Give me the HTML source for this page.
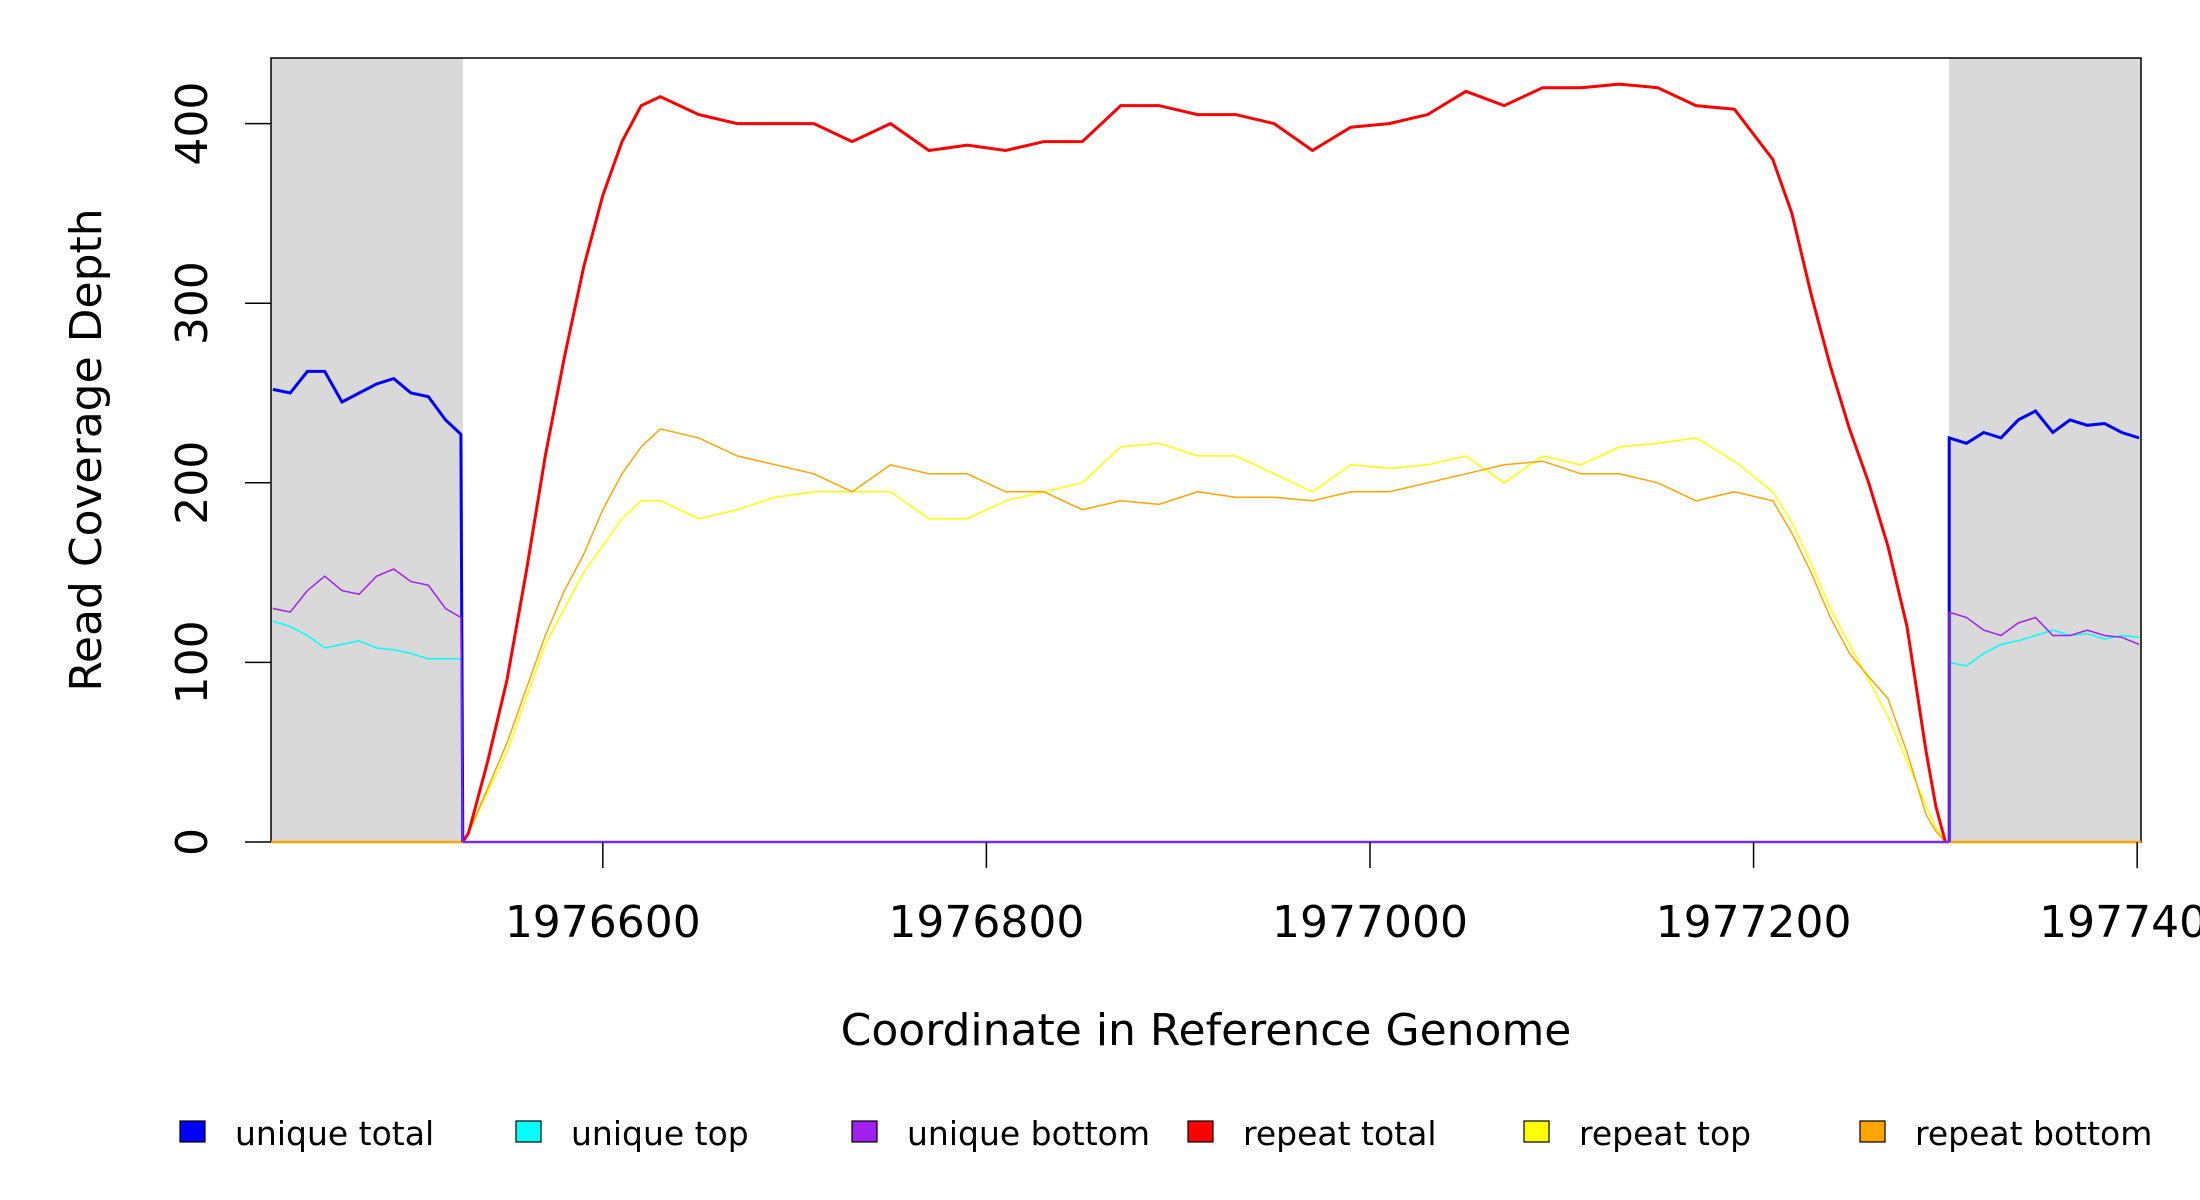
<!DOCTYPE html>
<html><head><meta charset="utf-8"><style>
body{margin:0;background:#fff}
svg{display:block;font-family:"DejaVu Sans","Liberation Sans",sans-serif}
</style></head><body>
<svg id="chart" width="2200" height="1200" viewBox="0 0 2200 1200" xmlns="http://www.w3.org/2000/svg">
<g id="plot"></g>
</svg>
<script>
const xTicks=[1976600,1976800,1977000,1977200,1977400];
const yTicks=[0,100,200,300,400];
const uniqueLeftX=[1976428,1976437,1976446,1976455,1976464,1976473,1976482,1976491,1976500,1976509,1976518,1976526];
const uniqueRightX=[1977302,1977311,1977320,1977329,1977338,1977347,1977356,1977365,1977374,1977383,1977392,1977401];
const uniqueTotalL=[252,250,262,262,245,250,255,258,250,248,235,227];
const uniqueTotalR=[225,222,228,225,235,240,228,235,232,233,228,225];
const uniqueTopL=[123,120,115,108,110,112,108,107,105,102,102,102];
const uniqueTopR=[100,98,105,110,112,115,118,115,116,113,115,114];
const uniqueBottomL=[130,128,140,148,140,138,148,152,145,143,130,125];
const uniqueBottomR=[128,125,118,115,122,125,115,115,118,115,114,110];
const repeatX=[1976527,1976530,1976540,1976550,1976560,1976570,1976580,1976590,1976600,1976610,1976620,1976630,1976650,1976670,1976690,1976710,1976730,1976750,1976770,1976790,1976810,1976830,1976850,1976870,1976890,1976910,1976930,1976950,1976970,1976990,1977010,1977030,1977050,1977070,1977090,1977110,1977130,1977150,1977170,1977190,1977210,1977220,1977230,1977240,1977250,1977260,1977270,1977280,1977290,1977295,1977300];
const repeatTotal=[0,5,45,90,150,215,270,320,360,390,410,415,405,400,400,400,390,400,385,388,385,390,390,410,410,405,405,400,385,398,400,405,418,410,420,420,422,420,410,408,380,350,305,265,230,200,165,120,50,20,0];
const repeatTop=[0,5,28,50,80,110,130,150,165,180,190,190,180,185,192,195,195,195,180,180,190,195,200,220,222,215,215,205,195,210,208,210,215,200,215,210,220,222,225,212,195,178,155,130,110,90,70,45,20,8,0];
const repeatBottom=[0,5,30,55,85,115,140,160,185,205,220,230,225,215,210,205,195,210,205,205,195,195,185,190,188,195,192,192,190,195,195,200,205,210,212,205,205,200,190,195,190,172,150,125,105,92,80,50,15,6,0];
const legendLabels=["unique total","unique top","unique bottom","repeat total","repeat top","repeat bottom"];
const legendColors=["#0000ff","#00ffff","#a020f0","#ff0000","#ffff00","#ffa500"];

const L=271,R=2141,T=58,B=842;
const X0=1976427,X1=1977402;
const sx=v=>L+(v-X0)/(X1-X0)*(R-L);
const sy=v=>842-v*1.796;
const NS="http://www.w3.org/2000/svg";
const svg=document.getElementById('chart');
function mk(tag,attrs,parent){const e=document.createElementNS(NS,tag);for(const k in attrs)e.setAttribute(k,attrs[k]);(parent||svg).appendChild(e);return e;}
let g1=mk('rect',{x:L,y:T,width:sx(1976527)-L,height:B-T,fill:'#d9d9d9'});


let g2=mk('rect',{x:sx(1977302),y:T,width:R-sx(1977302),height:B-T,fill:'#d9d9d9'});


let box=mk('rect',{x:L,y:T,width:R-L,height:B-T,fill:'none',stroke:'#000','stroke-width':1.5});


function line(xs,ys,color,w,name){
  const pts=xs.map((x,i)=>sx(x).toFixed(1)+','+sy(ys[i]).toFixed(1)).join(' ');
  const p=mk('polyline',{points:pts,fill:'none',stroke:color,'stroke-width':w});
  
  
}
line([X0,1976527],[0,0],'#ffa500',2.5,'repeat-zero-left');
line([1977300,X1],[0,0],'#ffa500',2.5,'repeat-zero-right');
line(repeatX,repeatTop,'#ffff00',1.5,'repeat-top-line');
line(repeatX,repeatBottom,'#ffa500',1.5,'repeat-bottom-line');
line(repeatX,repeatTotal,'#ff0000',3,'repeat-total-line');
line(uniqueLeftX.concat([1976527]),uniqueTopL.concat([0]),'#00ffff',1.5,'unique-top-left');
line([1977302].concat(uniqueRightX),[0].concat(uniqueTopR),'#00ffff',1.5,'unique-top-right');
line(uniqueLeftX.concat([1976527]),uniqueTotalL.concat([0]),'#0000ff',3,'unique-total-left');
line([1977302].concat(uniqueRightX),[0].concat(uniqueTotalR),'#0000ff',3,'unique-total-right');
line(uniqueLeftX.concat([1976527]),uniqueBottomL.concat([0]),'#a020f0',1.5,'unique-bottom-left');
line([1977302].concat(uniqueRightX),[0].concat(uniqueBottomR),'#a020f0',1.5,'unique-bottom-right');
line([1976527,1977302],[0,0],'#7b2cf0',2.5,'unique-zero-middle');
xTicks.forEach(v=>{
  let t=mk('line',{x1:sx(v),x2:sx(v),y1:B,y2:B+26,stroke:'#000','stroke-width':1.5});
  
  
  let l=mk('text',{x:sx(v),y:937,'font-size':44,'text-anchor':'middle'});
  l.textContent=v;
  
  
});
yTicks.forEach(v=>{
  let t=mk('line',{x1:L-26,x2:L,y1:sy(v),y2:sy(v),stroke:'#000','stroke-width':1.5});
  
  
  let l=mk('text',{x:0,y:0,'font-size':44,'text-anchor':'middle',transform:`translate(207,${sy(v)}) rotate(-90)`});
  l.textContent=v;
  
  
});
let xt=mk('text',{x:1206,y:1045,'font-size':44,'text-anchor':'middle'});
xt.textContent='Coordinate in Reference Genome';


let yt=mk('text',{x:0,y:0,'font-size':44,'text-anchor':'middle',transform:'translate(101,450) rotate(-90)'});
yt.textContent='Read Coverage Depth';


const lx=[180,516,852,1188,1524,1860];
legendLabels.forEach((lab,i)=>{
  let r=mk('rect',{x:lx[i],y:1121,width:25,height:21,fill:legendColors[i],stroke:'#000','stroke-width':1.2});
  
  
  let t=mk('text',{x:lx[i]+55,y:1145,'font-size':33});
  t.textContent=lab;
  
  
});
</script>
</body></html>
